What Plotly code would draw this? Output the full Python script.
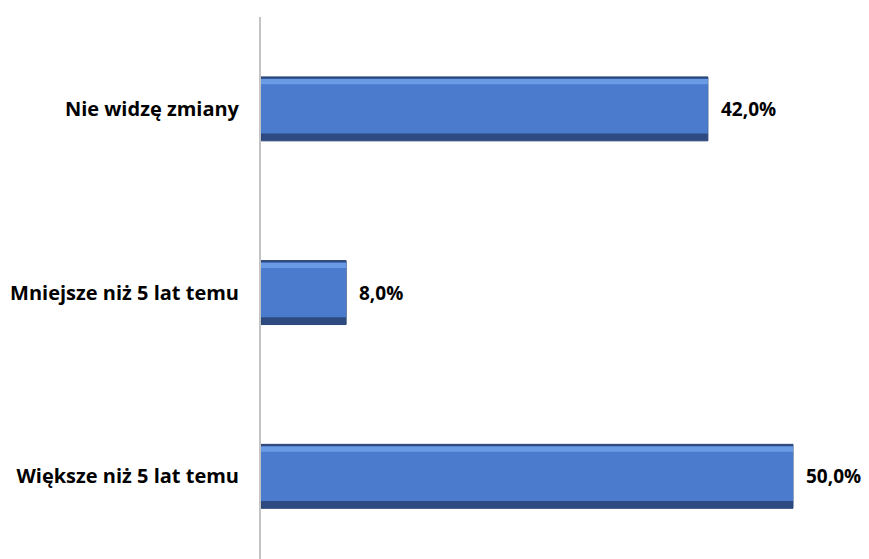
import plotly.graph_objects as go

categories = ["Większe niż 5 lat temu", "Mniejsze niż 5 lat temu", "Nie widzę zmiany"]
values = [50.0, 8.0, 42.0]
labels = ["50,0%", "8,0%", "42,0%"]

BW = 0.348
fig = go.Figure()
# dark base (bottom/edge shade)
fig.add_trace(go.Bar(y=categories, x=values, orientation="h", width=BW,
                     marker=dict(color="#2d4b80", line=dict(color="#2a4577", width=1)),
                     hoverinfo="skip", showlegend=False))
# main face
fig.add_trace(go.Bar(y=categories, x=values, orientation="h", width=BW - 0.05,
                     offset=-BW / 2 + 0.04,
                     marker=dict(color="#4a7bcd", line=dict(width=0)),
                     hoverinfo="skip", showlegend=False))
# top highlight
fig.add_trace(go.Bar(y=categories, x=values, orientation="h", width=0.028,
                     offset=BW / 2 - 0.04,
                     marker=dict(color="#6b9be4", line=dict(width=0)),
                     hoverinfo="skip", showlegend=False))

for c, v, t in zip(categories, values, labels):
    fig.add_annotation(x=v, y=c, text=t, showarrow=False, xanchor="left",
                       xshift=11, font=dict(family="Open Sans", size=19, color="#000000", weight="bold"))

fig.update_layout(
    width=861, height=551,
    margin=dict(l=253, r=0, t=9, b=0),
    paper_bgcolor="white", plot_bgcolor="white",
    barmode="overlay",
    xaxis=dict(range=[0, 608 / 10.64], visible=False, fixedrange=True),
    yaxis=dict(range=[-0.45, 2.5], showline=True, linecolor="#c4c4c4", linewidth=2,
               showgrid=False, ticks="", ticklabelstandoff=16,
               tickfont=dict(family="Open Sans", size=20, color="#000000", weight="bold")),
    font=dict(family="Open Sans"),
)

fig.write_html("out.html")
